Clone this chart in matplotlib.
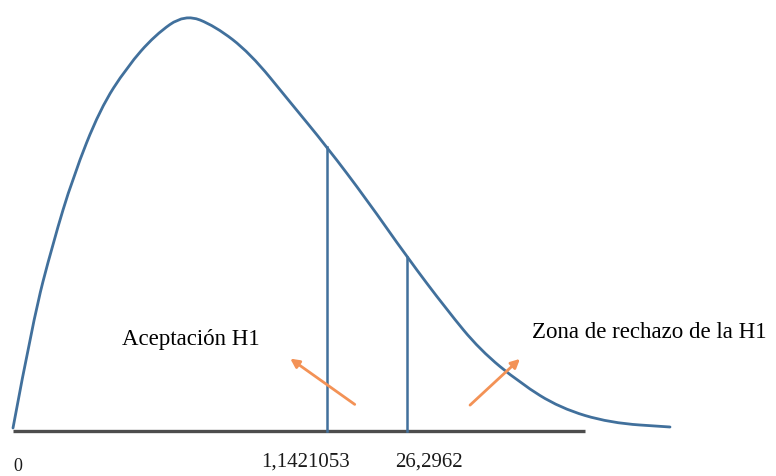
import matplotlib.pyplot as plt
from matplotlib.path import Path
from matplotlib.patches import PathPatch

# curve (pixel-like units, y grows downwards)
curve_x = [13, 33, 53, 73, 100, 127, 155, 185, 215, 250, 290, 327, 367, 407, 447, 480, 520, 560, 610, 670]
curve_y = [428, 320, 243, 177, 109, 67, 35, 14, 26, 53, 102, 147, 200, 257, 310, 350, 383, 408, 423, 427]

critical_x = [327, 407]
critical_top = [147, 257]
critical_labels = ["1,1421053", "26,2962"]
label_centre = [306, 429]

axis_start, axis_end, axis_y = 13, 585, 431

blue = "#41709c"
orange = "#f39256"

fig = plt.figure(figsize=(7.76, 4.76), dpi=100)
ax = fig.add_axes([0, 0, 1, 1])
ax.set_xlim(0, 776)
ax.set_ylim(476, 0)
ax.axis("off")

serif = "Liberation Serif"

# base line
ax.plot([axis_start, axis_end], [axis_y, axis_y], color="#4d4d4d", lw=2.4, solid_capstyle="butt", zorder=2)

# density curve, smoothed with quadratic bezier pieces through the traced points
pts = list(zip(curve_x, curve_y))
verts = [pts[0]]
codes = [Path.MOVETO]
for i in range(1, len(pts) - 1):
    mid = ((pts[i][0] + pts[i + 1][0]) / 2, (pts[i][1] + pts[i + 1][1]) / 2)
    verts += [pts[i], mid]
    codes += [Path.CURVE3, Path.CURVE3]
verts.append(pts[-1])
codes.append(Path.LINETO)
ax.add_patch(PathPatch(Path(verts, codes), fill=False, edgecolor=blue, lw=2.0, capstyle="round", zorder=3))

# critical value lines and labels
for cx, top, lab, lx in zip(critical_x, critical_top, critical_labels, label_centre):
    ax.plot([cx, cx], [top, axis_y], color=blue, lw=1.8, zorder=3)
    ax.text(lx, 467, lab, fontsize=15, family=serif, ha="center", va="baseline", color="#1a1a1a")

ax.text(18, 471, "0", fontsize=13, family=serif, ha="center", va="baseline", color="#1a1a1a")

# annotations
ax.text(122, 345, "Aceptación H1", fontsize=16.5, family=serif, ha="left", va="baseline")
ax.text(532, 338, "Zona de rechazo de la H1", fontsize=16.5, family=serif, ha="left", va="baseline")

ax.annotate("", xy=(288, 357), xytext=(357, 406),
            arrowprops=dict(arrowstyle="-|>", color=orange, lw=2.0, mutation_scale=13), zorder=4)
ax.annotate("", xy=(522, 357), xytext=(468, 407),
            arrowprops=dict(arrowstyle="-|>", color=orange, lw=2.0, mutation_scale=13), zorder=4)

fig.savefig("out.png", dpi=100)
